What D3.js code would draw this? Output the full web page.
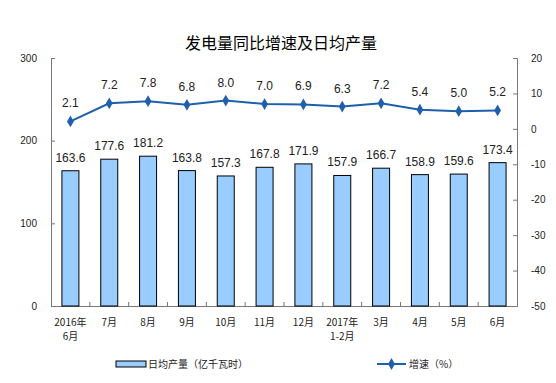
<!DOCTYPE html>
<html>
<head>
<meta charset="utf-8">
<script src="https://cdn.jsdelivr.net/npm/d3@7"></script>
<style>
  body { margin: 0; background: #fff; }
  text { font-family: Arial, "Liberation Sans", "Noto Sans CJK SC", sans-serif; }
</style>
</head>
<body>
<script>
// data
const months = ["2016年\n6月", "7月", "8月", "9月", "10月", "11月", "12月", "2017年\n1-2月", "3月", "4月", "5月", "6月"]
const dailyOutput = [163.6, 177.6, 181.2, 163.8, 157.3, 167.8, 171.9, 157.9, 166.7, 158.9, 159.6, 173.4]
const growth = [2.1, 7.2, 7.8, 6.8, 8.0, 7.0, 6.9, 6.3, 7.2, 5.4, 5.0, 5.2]
const leftTicks = [0, 100, 200, 300]
const rightTicks = [-50, -40, -30, -20, -10, 0, 10, 20]

const w = 556
const h = 383
const pLeft = 51, pRight = 517, pTop = 58, pBottom = 306

const svg = d3.select("body").append("svg")
              .attr("width", w)
              .attr("height", h)

const x = d3.scaleBand().domain(months).range([pLeft, pRight])
const y = d3.scaleLinear().domain([0, 300]).range([pBottom, pTop])
const y2 = d3.scaleLinear().domain([-50, 20]).range([pBottom, pTop])
const cx = (i) => x(months[i]) + x.bandwidth() / 2

// title
svg.append("text")
   .attr("x", 281).attr("y", 49)
   .attr("text-anchor", "middle")
   .style("font-family", "'Noto Sans CJK SC', sans-serif")
   .style("font-size", "16px")
   .text("发电量同比增速及日均产量")

// axes
const axL = svg.append("g")
   .attr("transform", "translate(" + pLeft + ",0)")
   .call(d3.axisLeft(y).tickValues(leftTicks).tickSize(-4).tickPadding(14))
const axR = svg.append("g")
   .attr("transform", "translate(" + pRight + ",0)")
   .call(d3.axisRight(y2).tickValues(rightTicks).tickSize(-4).tickPadding(14)
          .tickFormat((d) => String(d)))
const axB = svg.append("g")
   .attr("transform", "translate(0," + pBottom + ")")
   .call(d3.axisBottom(x).tickSize(0).tickFormat(""))
for (const ax of [axL, axR, axB]) {
    ax.select(".domain").attr("stroke", "#777")
    ax.selectAll(".tick line").attr("stroke", "#777")
    ax.selectAll("text").style("font-size", "10px").attr("fill", "#222")
}

// category boundary ticks on the x axis
svg.append("g").selectAll("line")
   .data(months.slice(1))
   .enter().append("line")
   .attr("x1", (d) => x(d)).attr("x2", (d) => x(d))
   .attr("y1", pBottom).attr("y2", pBottom - 4)
   .attr("stroke", "#777")

// x labels (two lines for year starts)
svg.append("g").selectAll("text")
   .data(months)
   .enter().append("text")
   .attr("text-anchor", "middle")
   .style("font-family", "'Noto Sans CJK SC', sans-serif")
   .style("font-size", "10px")
   .attr("fill", "#222")
   .each(function (d, i) {
       const t = d3.select(this)
       d.split("\n").forEach((p, j) => {
           t.append("tspan")
            .attr("x", cx(i))
            .attr("y", pBottom + 20 + j * 14)
            .text(p)
       })
   })

// bars
const bw = 17
svg.append("g").selectAll("rect")
   .data(dailyOutput)
   .enter().append("rect")
   .attr("x", (d, i) => cx(i) - bw / 2)
   .attr("y", (d) => y(d))
   .attr("width", bw)
   .attr("height", (d) => pBottom - y(d))
   .attr("fill", "#99ccff")
   .attr("stroke", "#000")
   .attr("stroke-width", 1)

svg.append("g").selectAll("text")
   .data(dailyOutput)
   .enter().append("text")
   .attr("x", (d, i) => cx(i))
   .attr("y", (d) => y(d) - 9)
   .attr("text-anchor", "middle")
   .style("font-size", "12px")
   .attr("fill", "#222")
   .text((d) => d.toFixed(1))

// growth line
const line = d3.line()
   .x((d, i) => cx(i))
   .y((d) => y2(d))
svg.append("path")
   .datum(growth)
   .attr("d", line)
   .attr("fill", "none")
   .attr("stroke", "#1f5fae")
   .attr("stroke-width", 2)

const diamond = d3.symbol().type(d3.symbolDiamond).size(40)
svg.append("g").selectAll("path")
   .data(growth)
   .enter().append("path")
   .attr("d", diamond)
   .attr("transform", (d, i) => "translate(" + cx(i) + "," + y2(d) + ")")
   .attr("fill", "#1f5fae")

svg.append("g").selectAll("text")
   .data(growth)
   .enter().append("text")
   .attr("x", (d, i) => cx(i))
   .attr("y", (d) => y2(d) - 14)
   .attr("text-anchor", "middle")
   .style("font-size", "12px")
   .attr("fill", "#222")
   .text((d) => d.toFixed(1))

// legend
svg.append("rect")
   .attr("x", 116).attr("y", 361).attr("width", 30).attr("height", 6)
   .attr("fill", "#99ccff").attr("stroke", "#000")
svg.append("text")
   .attr("x", 148).attr("y", 368)
   .style("font-family", "'Noto Sans CJK SC', sans-serif")
   .style("font-size", "10px").attr("fill", "#222")
   .text("日均产量（亿千瓦时）")
svg.append("line")
   .attr("x1", 377).attr("x2", 406).attr("y1", 364).attr("y2", 364)
   .attr("stroke", "#1f5fae").attr("stroke-width", 2)
svg.append("path")
   .attr("d", diamond)
   .attr("transform", "translate(391.5,364)")
   .attr("fill", "#1f5fae")
svg.append("text")
   .attr("x", 409).attr("y", 368)
   .style("font-family", "'Noto Sans CJK SC', sans-serif")
   .style("font-size", "10px").attr("fill", "#222")
   .text("增速（%）")
</script>
</body>
</html>
